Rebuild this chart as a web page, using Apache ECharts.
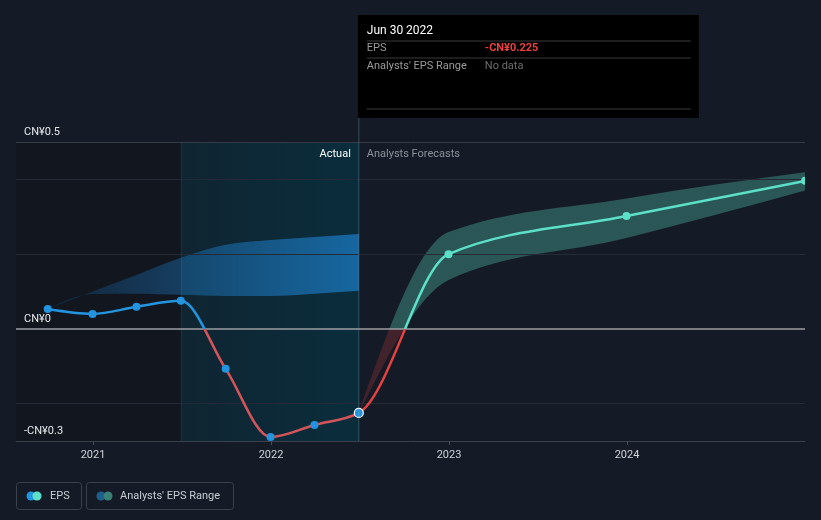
<!DOCTYPE html>
<html>
<head>
<meta charset="utf-8">
<script src="https://cdn.jsdelivr.net/npm/echarts@6/dist/echarts.min.js"></script>
<style>
html,body{margin:0;padding:0;background:#151b26;}
#c{width:821px;height:520px;}
</style>
</head>
<body>
<div id="c"></div>
<script>
// ---- data ----
const actualDates = ['2020-09-30','2020-12-31','2021-03-31','2021-06-30','2021-09-30','2021-12-31','2022-03-31','2022-06-30'];
const epsActual   = [0.053, 0.040, 0.059, 0.075, -0.107, -0.289, -0.257, -0.225];
const actualRangeLow  = [0.053, 0.093, 0.094, 0.091, 0.088, 0.088, 0.094, 0.102];
const actualRangeHigh = [0.053, 0.100, 0.144, 0.190, 0.225, 0.238, 0.246, 0.254];

const forecastDates = ['2022-06-30','2022-12-31','2023-12-31','2024-12-31'];
const epsForecast   = [-0.225, 0.200, 0.302, 0.396];
const forecastLow   = [-0.225, 0.131, 0.243, 0.370];
const forecastHigh  = [-0.225, 0.259, 0.349, 0.419];

const xTickDates = ['2021-01-01','2022-01-01','2023-01-01','2024-01-01'];
const yTickLabels = [-0.3, 0, 0.5];
const yGridLines = [0.4, 0.2, -0.2];
const yMin = -0.3, yMax = 0.5;
const xMinDate = '2020-07-27';
const xMaxDate = '2024-12-31';
const forecastStartDate = '2021-06-30';
const hoverDate = '2022-06-30';

// ---- helpers ----
function ts(s){ const p = s.split('-').map(Number); return new Date(p[0], p[1]-1, p[2]).getTime(); }
function pairs(ds, vs){ return ds.map((d,i)=>[ts(d), vs[i]]); }
function fmtCN(v){ return (v < 0 ? '-' : '') + 'CN¥' + Math.abs(v); }
const MONTHS = ['Jan','Feb','Mar','Apr','May','Jun','Jul','Aug','Sep','Oct','Nov','Dec'];
function fmtDate(s){ const p = s.split('-').map(Number); return MONTHS[p[1]-1] + ' ' + p[2] + ' ' + p[0]; }

// monotone-x cubic segments through pixel points
function monoSegments(pts){
  const n = pts.length, t = new Array(n).fill(0);
  const sgn = v => v < 0 ? -1 : 1;
  const sec = i => (pts[i+1][1]-pts[i][1])/(pts[i+1][0]-pts[i][0]);
  if (n === 2) { t[0] = t[1] = sec(0); }
  else {
    for (let i = 1; i < n-1; i++) {
      const h0 = pts[i][0]-pts[i-1][0], h1 = pts[i+1][0]-pts[i][0];
      const s0 = sec(i-1), s1 = sec(i), p = (s0*h1 + s1*h0)/(h0+h1);
      t[i] = (sgn(s0)+sgn(s1)) * Math.min(Math.abs(s0), Math.abs(s1), 0.5*Math.abs(p)) || 0;
    }
    t[0] = (3*sec(0) - t[1])/2;
    t[n-1] = (3*sec(n-2) - t[n-2])/2;
  }
  const segs = [];
  for (let i = 0; i < n-1; i++) {
    const [x0,y0] = pts[i], [x1,y1] = pts[i+1], h = (x1-x0)/3;
    segs.push({ p0:[x0,y0], c1:[x0+h, y0+t[i]*h], c2:[x1-h, y1-t[i+1]*h], p1:[x1,y1] });
  }
  return segs;
}
const f2 = v => v.toFixed(2);
function segPath(segs){
  if (!segs.length) return '';
  let d = 'M' + f2(segs[0].p0[0]) + ',' + f2(segs[0].p0[1]);
  segs.forEach(s => { d += 'C' + [s.c1, s.c2, s.p1].map(p => f2(p[0])+','+f2(p[1])).join(' '); });
  return d;
}
function bandPath(upSegs, lowSegs){
  let d = segPath(upSegs);
  const last = lowSegs[lowSegs.length-1].p1;
  d += 'L' + f2(last[0]) + ',' + f2(last[1]);
  for (let i = lowSegs.length-1; i >= 0; i--) {
    const s = lowSegs[i];
    d += 'C' + [s.c2, s.c1, s.p0].map(p => f2(p[0])+','+f2(p[1])).join(' ');
  }
  return d + 'Z';
}
function signGradient(api, neg, pos){
  const x = ts(xMinDate);
  const yTop = api.coord([x, yMax])[1], yBot = api.coord([x, yMin])[1], y0 = api.coord([x, 0])[1];
  const f = (y0 - yTop)/(yBot - yTop);
  return new echarts.graphic.LinearGradient(0, yTop, 0, yBot, [
    { offset: 0, color: pos }, { offset: f, color: pos }, { offset: f, color: neg }, { offset: 1, color: neg }], true);
}

const FONT = 'Roboto, "Noto Sans", sans-serif';
const chart = echarts.init(document.getElementById('c'));
const anchor = [[ts(hoverDate), 0]];

const option = {
  backgroundColor: '#151b26',
  animation: false,
  textStyle: { fontFamily: FONT },
  grid: { left: 16, right: 16, top: 142, bottom: 79 },
  xAxis: {
    type: 'value',
    min: ts(xMinDate), max: ts(xMaxDate),
    splitLine: { show: false },
    axisLine: { onZero: false, lineStyle: { color: '#3b414c', width: 1 } },
    axisTick: { show: false },
    axisLabel: { color: '#d0d3d8', fontSize: 11, margin: 9, fontFamily: FONT,
      customValues: xTickDates.map(ts),
      formatter: v => String(new Date(v).getFullYear()) }
  },
  yAxis: {
    type: 'value', min: yMin, max: yMax,
    splitLine: { show: false },
    axisLine: { show: false }, axisTick: { show: false },
    axisLabel: { inside: true, margin: 8, color: '#e6e8eb', fontSize: 11, fontFamily: FONT,
      verticalAlign: 'bottom', lineHeight: 14, padding: [0,0,3,0],
      customValues: yTickLabels, formatter: v => fmtCN(v) }
  },
  series: [
    { // backgrounds + grid lines
      type: 'line', data: [], silent: true, z: 0,
      markArea: { silent: true, z: 0, data: [
        [{ xAxis: ts(xMinDate), itemStyle: { color: 'rgba(0,0,0,0.17)' } }, { xAxis: ts(forecastStartDate) }],
        [{ xAxis: ts(forecastStartDate), itemStyle: { color: new echarts.graphic.LinearGradient(0,0,1,0,[
            { offset: 0, color: 'rgba(0,62,80,0.28)' }, { offset: 1, color: 'rgba(0,62,80,0.52)' }]) } },
         { xAxis: ts(hoverDate) }]
      ]},
      markLine: { silent: true, z: 2.5, symbol: 'none', label: { show: false }, data: [
        ...yGridLines.map(v => ({ yAxis: v, lineStyle: { color: '#252b36', width: 1, type: 'solid' } })),
        { yAxis: yMax, lineStyle: { color: '#363c47', width: 1, type: 'solid' } },
        { yAxis: 0, lineStyle: { color: '#9c9ea2', width: 1.5, type: 'solid' } },
        { xAxis: ts(forecastStartDate), lineStyle: { color: 'rgba(255,255,255,0.05)', width: 1, type: 'solid' } }
      ]}
    },
    { // analysts' EPS range bands
      type: 'custom', silent: true, clip: true, z: 2, data: anchor,
      renderItem: (params, api) => {
        const toPts = (ds, vs) => pairs(ds, vs).map(p => api.coord(p));
        const hU = monoSegments(toPts(actualDates, actualRangeHigh));
        const hL = monoSegments(toPts(actualDates, actualRangeLow));
        const fU = monoSegments(toPts(forecastDates, forecastHigh));
        const fL = monoSegments(toPts(forecastDates, forecastLow));
        return { type: 'group', children: [
          { type: 'path', shape: { pathData: bandPath(hU, hL) },
            style: { fill: new echarts.graphic.LinearGradient(0,0,1,0,[
              { offset: 0, color: 'rgba(33,150,243,0.12)' }, { offset: 1, color: 'rgba(33,150,243,0.55)' }]) } },
          { type: 'path', shape: { pathData: bandPath(fU, fL) },
            style: { fill: signGradient(api, 'rgba(170,50,55,0.3)', 'rgba(92,224,200,0.3)') } }
        ]};
      }
    },
    { // EPS line (one monotone curve, actual part + forecast part)
      type: 'custom', silent: true, clip: true, z: 3, data: anchor,
      renderItem: (params, api) => {
        const all = pairs(actualDates, epsActual).concat(pairs(forecastDates, epsForecast).slice(1));
        const segs = monoSegments(all.map(p => api.coord(p)));
        const split = actualDates.length - 1;
        return { type: 'group', children: [
          { type: 'path', shape: { pathData: segPath(segs.slice(0, split)) },
            style: { fill: 'none', lineWidth: 2.5, stroke: signGradient(api, '#d4545a', '#2394df') } },
          { type: 'path', shape: { pathData: segPath(segs.slice(split)) },
            style: { fill: 'none', lineWidth: 2.5, stroke: signGradient(api, '#e8413f', '#5ce0c8') } }
        ]};
      }
    },
    { // EPS dots
      type: 'custom', silent: true, clip: true, z: 4, data: anchor,
      renderItem: (params, api) => {
        const act = pairs(actualDates, epsActual).map(p => api.coord(p));
        const fc = pairs(forecastDates, epsForecast).slice(1).map(p => api.coord(p));
        const children = act.map((p, i) => i === act.length - 1
          ? { type: 'circle', shape: { cx: p[0], cy: p[1], r: 4.5 }, style: { fill: '#2394df', stroke: '#ffffff', lineWidth: 1.2 } }
          : { type: 'circle', shape: { cx: p[0], cy: p[1], r: 4 }, style: { fill: '#2394df' } });
        fc.forEach(p => children.push({ type: 'circle', shape: { cx: p[0], cy: p[1], r: 4 }, style: { fill: '#5ce0c8' } }));
        return { type: 'group', children };
      }
    }
  ]
};
chart.setOption(option);

// overlay: hover line, tooltip box, labels, legend, x ticks
const toPx = (d, v) => chart.convertToPixel({ gridIndex: 0 }, [ts(d), v]);
const hx = toPx(hoverDate, 0)[0];
const gridBottom = toPx(hoverDate, yMin)[1];
const gridTop = toPx(hoverDate, yMax)[1];
const tipL = hx - 1, tipT = 15, tipW = 341, tipH = 103;
const lastEps = epsActual[epsActual.length-1];

const tickGraphics = xTickDates.map(d => {
  const x = Math.round(toPx(d, yMin)[0]) + 0.5;
  return { type: 'line', silent: true, shape: { x1: x, y1: gridBottom, x2: x, y2: gridBottom + 4 },
    style: { stroke: '#4a505b', lineWidth: 1 } };
});

chart.setOption({ graphic: [
  ...tickGraphics,
  { type: 'line', z: 50, silent: true, shape: { x1: hx, y1: tipT + tipH, x2: hx, y2: gridBottom },
    style: { stroke: 'rgba(130,165,185,0.35)', lineWidth: 1 } },
  { type: 'text', z: 50, silent: true, x: hx - 8, y: gridTop + 12,
    style: { text: 'Actual', fill: '#ffffff', font: '11px ' + FONT, textAlign: 'right', textVerticalAlign: 'middle' } },
  { type: 'text', z: 50, silent: true, x: hx + 8, y: gridTop + 12,
    style: { text: 'Analysts Forecasts', fill: '#8c9199', font: '11px ' + FONT, textAlign: 'left', textVerticalAlign: 'middle' } },
  { type: 'rect', z: 60, silent: true, shape: { x: tipL, y: tipT, width: tipW, height: tipH },
    style: { fill: '#000000' } },
  { type: 'text', z: 61, silent: true, x: tipL + 9, y: tipT + 16,
    style: { text: fmtDate(hoverDate), fill: '#ffffff', font: '12px ' + FONT, textVerticalAlign: 'middle' } },
  { type: 'line', z: 61, silent: true, shape: { x1: tipL + 9, y1: tipT + 26, x2: tipL + 333, y2: tipT + 26 },
    style: { stroke: '#3a3a3a', lineWidth: 1 } },
  { type: 'text', z: 61, silent: true, x: tipL + 9, y: tipT + 33,
    style: { text: 'EPS', fill: '#9a9a9a', font: '11px ' + FONT, textVerticalAlign: 'middle' } },
  { type: 'text', z: 61, silent: true, x: tipL + 127, y: tipT + 33,
    style: { text: fmtCN(lastEps), fill: '#e8413f', font: 'bold 11px ' + FONT, textVerticalAlign: 'middle' } },
  { type: 'line', z: 61, silent: true, shape: { x1: tipL + 9, y1: tipT + 43, x2: tipL + 333, y2: tipT + 43 },
    style: { stroke: '#3a3a3a', lineWidth: 1 } },
  { type: 'text', z: 61, silent: true, x: tipL + 9, y: tipT + 51,
    style: { text: "Analysts' EPS Range", fill: '#9a9a9a', font: '11px ' + FONT, textVerticalAlign: 'middle' } },
  { type: 'text', z: 61, silent: true, x: tipL + 127, y: tipT + 51,
    style: { text: 'No data', fill: '#6e6e6e', font: '11px ' + FONT, textVerticalAlign: 'middle' } },
  { type: 'line', z: 61, silent: true, shape: { x1: tipL + 9, y1: tipT + 94, x2: tipL + 333, y2: tipT + 94 },
    style: { stroke: '#3a3a3a', lineWidth: 1 } },
  // legend
  { type: 'rect', silent: true, shape: { x: 16.5, y: 482.5, width: 65, height: 27, r: 3 },
    style: { fill: 'none', stroke: '#3a404c', lineWidth: 1 } },
  { type: 'circle', silent: true, shape: { cx: 31, cy: 496, r: 4.5 }, style: { fill: '#2394df' } },
  { type: 'circle', silent: true, shape: { cx: 37, cy: 496, r: 4.5 }, style: { fill: '#5ce0c8' } },
  { type: 'text', silent: true, x: 50, y: 496,
    style: { text: 'EPS', fill: '#c8ccd2', font: '11px ' + FONT, textVerticalAlign: 'middle' } },
  { type: 'rect', silent: true, shape: { x: 86.5, y: 482.5, width: 147, height: 27, r: 3 },
    style: { fill: 'none', stroke: '#3a404c', lineWidth: 1 } },
  { type: 'circle', silent: true, shape: { cx: 101, cy: 496, r: 4.5 }, style: { fill: '#1d5f8c' } },
  { type: 'circle', silent: true, shape: { cx: 108, cy: 496, r: 4.5 }, style: { fill: '#3b8077' } },
  { type: 'text', silent: true, x: 120, y: 496,
    style: { text: "Analysts' EPS Range", fill: '#c8ccd2', font: '11px ' + FONT, textVerticalAlign: 'middle' } }
]});
</script>
</body>
</html>
